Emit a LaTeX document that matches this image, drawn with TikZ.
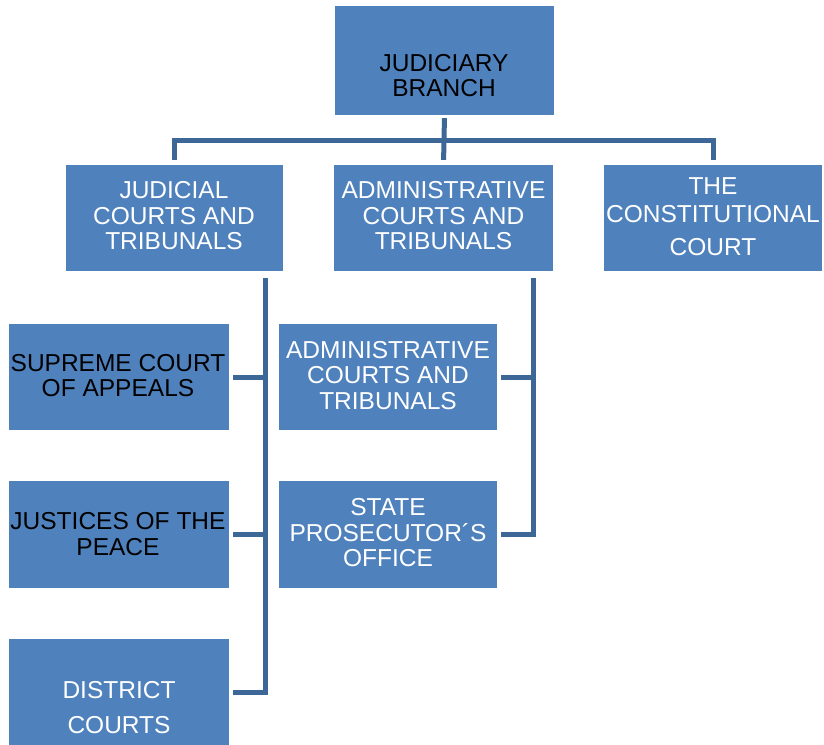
\documentclass[tikz,border=0pt]{standalone}
\usepackage{fontspec}
\setmainfont{Liberation Sans}
\definecolor{boxblue}{HTML}{4F81BD}
\definecolor{lineblue}{HTML}{3D6797}
\begin{document}
\begin{tikzpicture}[x=1pt,y=-1pt,
  orgbox/.style={fill=boxblue,draw=none,inner sep=0pt,minimum width=#1},
  orgbox/.default=219pt,
  txt/.style={align=center,inner sep=0pt,font=\fontsize{24.5pt}{25.5pt}\selectfont},
  conn/.style={draw=lineblue,line width=5pt,line join=miter}]
\useasboundingbox (0,0) rectangle (824,744);
% boxes
\node[orgbox=219pt,minimum height=109pt] (top) at (444.5,60.5) {};
\node[orgbox=217pt,minimum height=106pt] (judicial) at (174.5,218) {};
\node[orgbox=219pt,minimum height=106pt] (admin) at (443.5,218) {};
\node[orgbox=218pt,minimum height=106pt] (const) at (713,218) {};
\node[orgbox=220pt,minimum height=106pt] (supreme) at (119,377) {};
\node[orgbox=220pt,minimum height=107pt] (justices) at (119,534.5) {};
\node[orgbox=220pt,minimum height=106pt] (district) at (119,692) {};
\node[orgbox=218pt,minimum height=106pt] (admin3) at (388,377) {};
\node[orgbox=218pt,minimum height=107pt] (state) at (388,534.5) {};
% texts
\node[txt,text=black] (toptxt) at (444,75.5) {JUDICIARY\\BRANCH};
\node[txt,text=white] (judtxt) at (174,216) {JUDICIAL\\COURTS AND\\TRIBUNALS};
\node[txt,text=white] (admtxt) at (443.5,216) {ADMINISTRATIVE\\COURTS AND\\TRIBUNALS};
\node[txt,text=white] (consttxt) at (713,217) {THE\\[2pt]CONSTITUTIONAL\\[8pt]COURT};
\node[txt,text=black] (suptxt) at (118,375.5) {SUPREME COURT\\OF APPEALS};
\node[txt,text=black] (justxt) at (118,534) {JUSTICES OF THE\\PEACE};
\node[txt,text=white] (disttxt) at (119,708) {DISTRICT\\[9.5pt]COURTS};
\node[txt,text=white] (adm3txt) at (388,375.5) {ADMINISTRATIVE\\COURTS AND\\TRIBUNALS};
\node[txt,text=white] (statetxt) at (388,533) {STATE\\PROSECUTOR´S\\OFFICE};
% connectors
\draw[conn,shorten <=3pt,shorten >=5pt] (top.south) -- (admin.north);
\draw[conn,shorten <=5pt,shorten >=5pt] (judicial.north) -- ++(0,-24) -| (const.north);
\coordinate (jv) at ([shift={(-18,7)}]judicial.south east);
\coordinate (av) at ([shift={(-20,7)}]admin.south east);
\draw[conn,shorten >=4pt] (jv) |- (district.east);
\draw[conn,shorten >=4pt] (jv |- supreme.east) -- (supreme.east);
\draw[conn,shorten >=4pt] (jv |- justices.east) -- (justices.east);
\draw[conn,shorten >=4pt] (av) |- (state.east);
\draw[conn,shorten >=4pt] (av |- admin3.east) -- (admin3.east);
\end{tikzpicture}
\end{document}
